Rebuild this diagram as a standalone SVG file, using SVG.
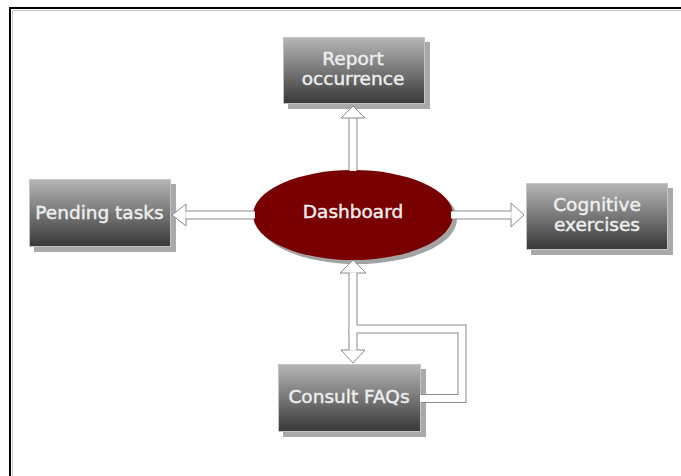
<svg xmlns="http://www.w3.org/2000/svg" width="681" height="476" viewBox="0 0 681 476">
  <defs>
    <linearGradient id="boxFill" x1="0" y1="0" x2="0" y2="1">
      <stop offset="0" stop-color="#b6b6b6"/>
      <stop offset="1" stop-color="#383838"/>
    </linearGradient>
    <style>
      .box { fill: url(#boxFill); stroke: #c4c4c4; stroke-width: 1; }
      .shadow { fill: #a9a9a9; }
      .label { font-family: "DejaVu Sans", "Liberation Sans", sans-serif; font-size: 18.5px; fill: #eeeeee; stroke: #eeeeee; stroke-width: 0.45; text-anchor: middle; }
      .edge { fill: none; stroke: #8a8a8a; stroke-width: 9; stroke-linejoin: miter; }
      .edge-in { fill: none; stroke: #ffffff; stroke-width: 7; stroke-linejoin: miter; }
      .head { fill: #ffffff; stroke: #8a8a8a; stroke-width: 1; stroke-linejoin: miter; }
    </style>
  </defs>

  <!-- page background and frame -->
  <rect x="0" y="0" width="681" height="476" fill="#ffffff"/>
  <path d="M12.5 476 V10.5 H681" fill="none" stroke="#c8c8c8" stroke-width="1"/>
  <path d="M10 476 V8 H681" fill="none" stroke="#000000" stroke-width="2"/>

  <g id="node-report">
    <rect class="shadow" x="288" y="42" width="142" height="67"/>
    <rect class="box" x="283.5" y="37.5" width="141" height="66"/>
    <text class="label" x="353" y="65">Report</text>
    <text class="label" x="353" y="85">occurrence</text>
  </g>

  <g id="node-pending">
    <rect class="shadow" x="34" y="184" width="142" height="68"/>
    <rect class="box" x="29.5" y="179.5" width="141" height="67"/>
    <text class="label" x="99.5" y="219">Pending tasks</text>
  </g>

  <g id="node-cognitive">
    <rect class="shadow" x="531" y="188" width="142" height="67"/>
    <rect class="box" x="526.5" y="183.5" width="141" height="66"/>
    <text class="label" x="597" y="211">Cognitive</text>
    <text class="label" x="597" y="231">exercises</text>
  </g>

  <g id="node-faqs">
    <rect class="shadow" x="283" y="369" width="143" height="68"/>
    <rect class="box" x="278.5" y="364.5" width="142" height="67"/>
    <text class="label" x="349" y="403">Consult FAQs</text>
  </g>

  <g id="node-dashboard">
    <ellipse cx="357" cy="219" rx="100" ry="45" fill="#a3a3a3"/>
    <ellipse cx="353" cy="215" rx="100" ry="45" fill="#790000"/>
    <text class="label" x="353" y="218">Dashboard</text>
  </g>

  <g id="connectors">
    <!-- outlines of the hollow shafts -->
    <path class="edge" d="M353 170 V117"/>
    <path class="edge" d="M254 215 H185"/>
    <path class="edge" d="M452 215 H512"/>
    <path class="edge" d="M421 398.5 H462 V329 H353 V272"/>
    <path class="edge" d="M353 329 V351"/>

    <!-- arrowheads -->
    <polygon class="head" points="353,106 365,118 341,118"/>
    <polygon class="head" points="172,215 186,204 186,226"/>
    <polygon class="head" points="524,215 511,203 511,227"/>
    <polygon class="head" points="353,260 366,273 340,273"/>
    <polygon class="head" points="353,363 341,350 365,350"/>

    <!-- shaft interiors, opened into the heads -->
    <path class="edge-in" d="M353 171 V118.5"/>
    <path class="edge-in" d="M255 215 H185.5"/>
    <path class="edge-in" d="M451 215 H511.5"/>
    <path class="edge-in" d="M420 398.5 H462 V329 H353 V272.5"/>
    <path class="edge-in" d="M353 329 V350.5"/>
  </g>
</svg>
